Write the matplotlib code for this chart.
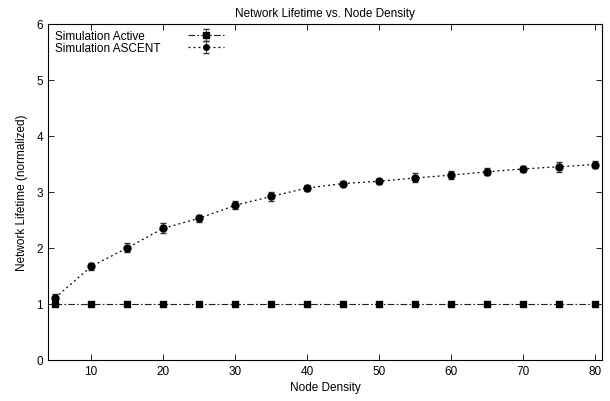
import numpy as np
import matplotlib.pyplot as plt

plt.rcParams['font.family'] = ['Liberation Sans', 'DejaVu Sans']

# node density values
density = [5, 10, 15, 20, 25, 30, 35, 40, 45, 50, 55, 60, 65, 70, 75, 80]

# normalized lifetime
active = [1.0] * 16
active_err = [0.01] * 16
ascent = [1.11, 1.67, 2.0, 2.35, 2.53, 2.76, 2.92, 3.07, 3.15, 3.19, 3.25, 3.30, 3.36, 3.41, 3.45, 3.49]
ascent_err = [0.07, 0.06, 0.08, 0.09, 0.06, 0.07, 0.08, 0.05, 0.04, 0.04, 0.08, 0.07, 0.06, 0.05, 0.09, 0.06]

fig = plt.figure(figsize=(6.1, 4.02), dpi=100)
ax = fig.add_axes([0.0787, 0.102, 0.908, 0.836])

ax.errorbar(density, active, yerr=active_err, color='#222222', ecolor='#333333',
            ls=(0, (6, 2, 1.5, 2)), lw=0.8, marker='s', ms=5, mfc='black', mec='black',
            capsize=2, elinewidth=0.6, label='Simulation Active')
ax.errorbar(density, ascent, yerr=ascent_err, color='black', ecolor='#333333',
            ls=(0, (1.5, 2.5)), lw=0.9, marker='o', ms=5, capsize=2,
            elinewidth=0.6, label='Simulation ASCENT')

ax.set_xlim(4, 81)
ax.set_ylim(0, 6)
ax.set_xticks([10, 20, 30, 40, 50, 60, 70, 80])
ax.set_yticks([0, 1, 2, 3, 4, 5, 6])
ax.tick_params(direction='in', top=True, right=True, labelsize=8.5, length=4, width=0.6)
for s in ax.spines.values():
    s.set_linewidth(0.8)

ax.set_xlabel('Node Density', fontsize=8.5, labelpad=3)
ax.set_ylabel('Network Lifetime (normalized)', fontsize=8.5, labelpad=6)
ax.set_title('Network Lifetime vs. Node Density', fontsize=8.5, pad=6)

leg = ax.legend(loc='upper left', frameon=False, fontsize=8.5, handlelength=3.0,
                handletextpad=2.4, labelspacing=0.0, borderaxespad=0.15,
                markerfirst=False, markerscale=0.8)

# gnuplot key: text left-aligned, samples lined up on the right
col = leg._legend_handle_box.get_children()[0]
col.align = 'baseline'
fig.canvas.draw()
r = fig.canvas.get_renderer()
ws = [t.get_window_extent(r).width for t in leg.get_texts()]
for row, w in zip(col.get_children(), ws):
    row.sep += (max(ws) - w) * 72 / fig.dpi

fig.savefig('out.png', dpi=100)
